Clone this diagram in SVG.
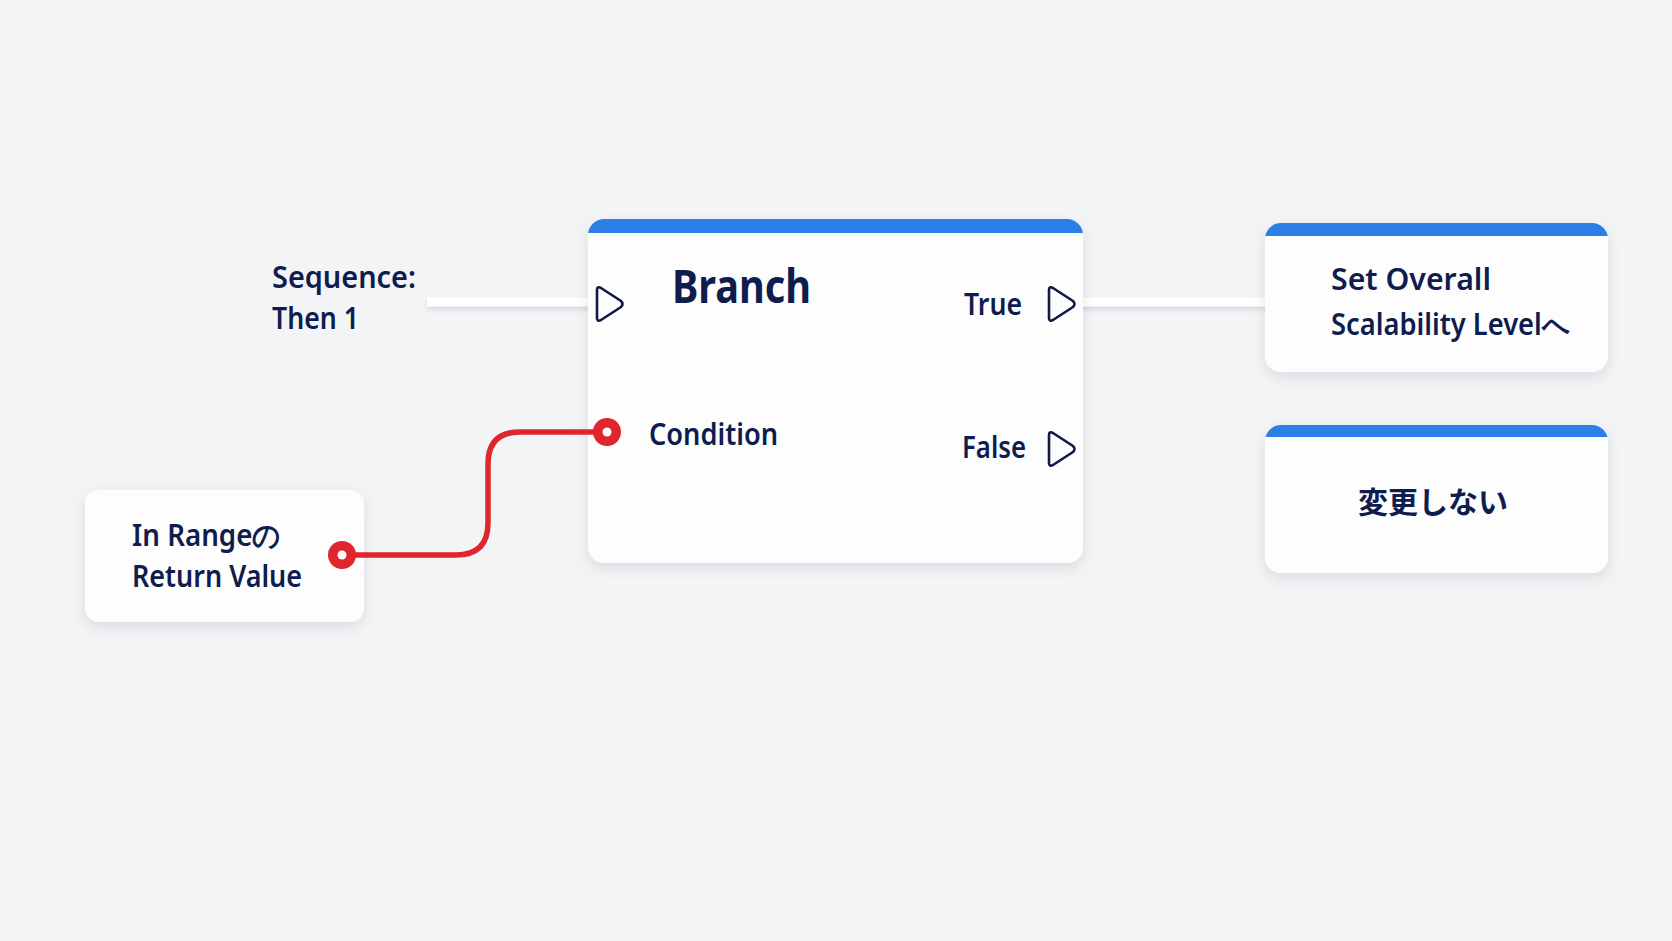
<svg xmlns="http://www.w3.org/2000/svg" width="1672" height="941" viewBox="0 0 1672 941">
<style>
.bg{fill:#f3f4f6}
.card{fill:#fdfdfe}
.bar{fill:#2b7fe6}
.lbl{font-family:"Noto Sans","Open Sans","Liberation Sans",sans-serif;font-weight:600;font-size:30px;fill:#0f1d4e}
.title{font-family:"Noto Sans","Open Sans","Liberation Sans",sans-serif;font-weight:700;font-size:46px;fill:#0f1d4e}
.jp{font-family:"Noto Sans CJK JP","Noto Sans",sans-serif;font-weight:700;font-size:30px;fill:#0f1d4e}
.pin{fill:none;stroke:#111a45;stroke-width:2.6;stroke-linejoin:round}
.wire{fill:none;stroke:#ffffff;stroke-width:9;stroke-linecap:butt}
.red{fill:none;stroke:#e0262d;stroke-width:5.5}
</style>
<defs>
<filter id="sh" x="-20%" y="-20%" width="140%" height="150%">
<feDropShadow dx="0" dy="5" stdDeviation="7" flood-color="#1a2340" flood-opacity="0.10"/>
</filter>
<filter id="lsh" filterUnits="userSpaceOnUse" x="0" y="250" width="1672" height="110">
<feDropShadow dx="0" dy="3" stdDeviation="2.5" flood-color="#1a2340" flood-opacity="0.14"/>
</filter>
<clipPath id="cB"><rect x="588" y="219" width="495" height="344" rx="16"/></clipPath>
<clipPath id="cS"><rect x="1265" y="223" width="343" height="149" rx="16"/></clipPath>
<clipPath id="cH"><rect x="1265" y="425" width="343" height="148" rx="16"/></clipPath>
</defs>
<rect class="bg" x="0" y="0" width="1672" height="941"/>

<g id="connectors" filter="url(#lsh)">
<line class="wire" x1="427" y1="302" x2="590" y2="302"/>
<line class="wire" x1="1080" y1="302" x2="1267" y2="302"/>
</g>

<g id="node-sequence">
<text class="lbl" x="272" y="288" textLength="144" lengthAdjust="spacingAndGlyphs">Sequence:</text>
<text class="lbl" x="272" y="329" textLength="87" lengthAdjust="spacingAndGlyphs">Then 1</text>
</g>

<g id="node-branch">
<rect class="card" filter="url(#sh)" x="588" y="219" width="495" height="344" rx="16"/>
<rect class="bar" clip-path="url(#cB)" x="588" y="219" width="495" height="14"/>
<text class="title" x="672" y="303" textLength="139" lengthAdjust="spacingAndGlyphs">Branch</text>
<path class="pin" d="M597,290 Q597,286 601,288 L621,301 Q624,304 621,307 L601,320 Q597,322 597,318 Z"/>
<text class="lbl" x="964" y="315" textLength="58" lengthAdjust="spacingAndGlyphs">True</text>
<path class="pin" d="M1049,290 Q1049,286 1053,288 L1073,301 Q1076,304 1073,307 L1053,320 Q1049,322 1049,318 Z"/>
<text class="lbl" x="649" y="445" textLength="129" lengthAdjust="spacingAndGlyphs">Condition</text>
<text class="lbl" x="962" y="458" textLength="64" lengthAdjust="spacingAndGlyphs">False</text>
<path class="pin" d="M1049,435 Q1049,431 1053,433 L1073,446 Q1076,449 1073,452 L1053,465 Q1049,467 1049,463 Z"/>
</g>

<g id="node-inrange">
<rect class="card" filter="url(#sh)" x="85" y="490" width="279" height="132" rx="14"/>
<text class="lbl" x="132" y="546" textLength="149" lengthAdjust="spacingAndGlyphs">In Rangeの</text>
<text class="lbl" x="132" y="587" textLength="170" lengthAdjust="spacingAndGlyphs">Return Value</text>
</g>

<g id="connector-condition">
<path class="red" d="M342,555 H456 Q488,555 488,523 V464 Q488,432 520,432 H607"/>
<circle cx="342" cy="555" r="14" fill="#e0262d"/>
<circle cx="342" cy="555" r="4.5" fill="#ffffff"/>
<circle cx="607" cy="432" r="14" fill="#e0262d"/>
<circle cx="607" cy="432" r="4.5" fill="#ffffff"/>
</g>

<g id="node-set-overall">
<rect class="card" filter="url(#sh)" x="1265" y="223" width="343" height="149" rx="16"/>
<rect class="bar" clip-path="url(#cS)" x="1265" y="223" width="343" height="13"/>
<text class="lbl" x="1331" y="290" textLength="160" lengthAdjust="spacingAndGlyphs">Set Overall</text>
<text class="lbl" x="1331" y="335" textLength="239" lengthAdjust="spacingAndGlyphs">Scalability Levelへ</text>
</g>

<g id="node-no-change">
<rect class="card" filter="url(#sh)" x="1265" y="425" width="343" height="148" rx="16"/>
<rect class="bar" clip-path="url(#cH)" x="1265" y="425" width="343" height="12"/>
<text class="jp" x="1358" y="513" textLength="150" lengthAdjust="spacingAndGlyphs">変更しない</text>
</g>
</svg>
